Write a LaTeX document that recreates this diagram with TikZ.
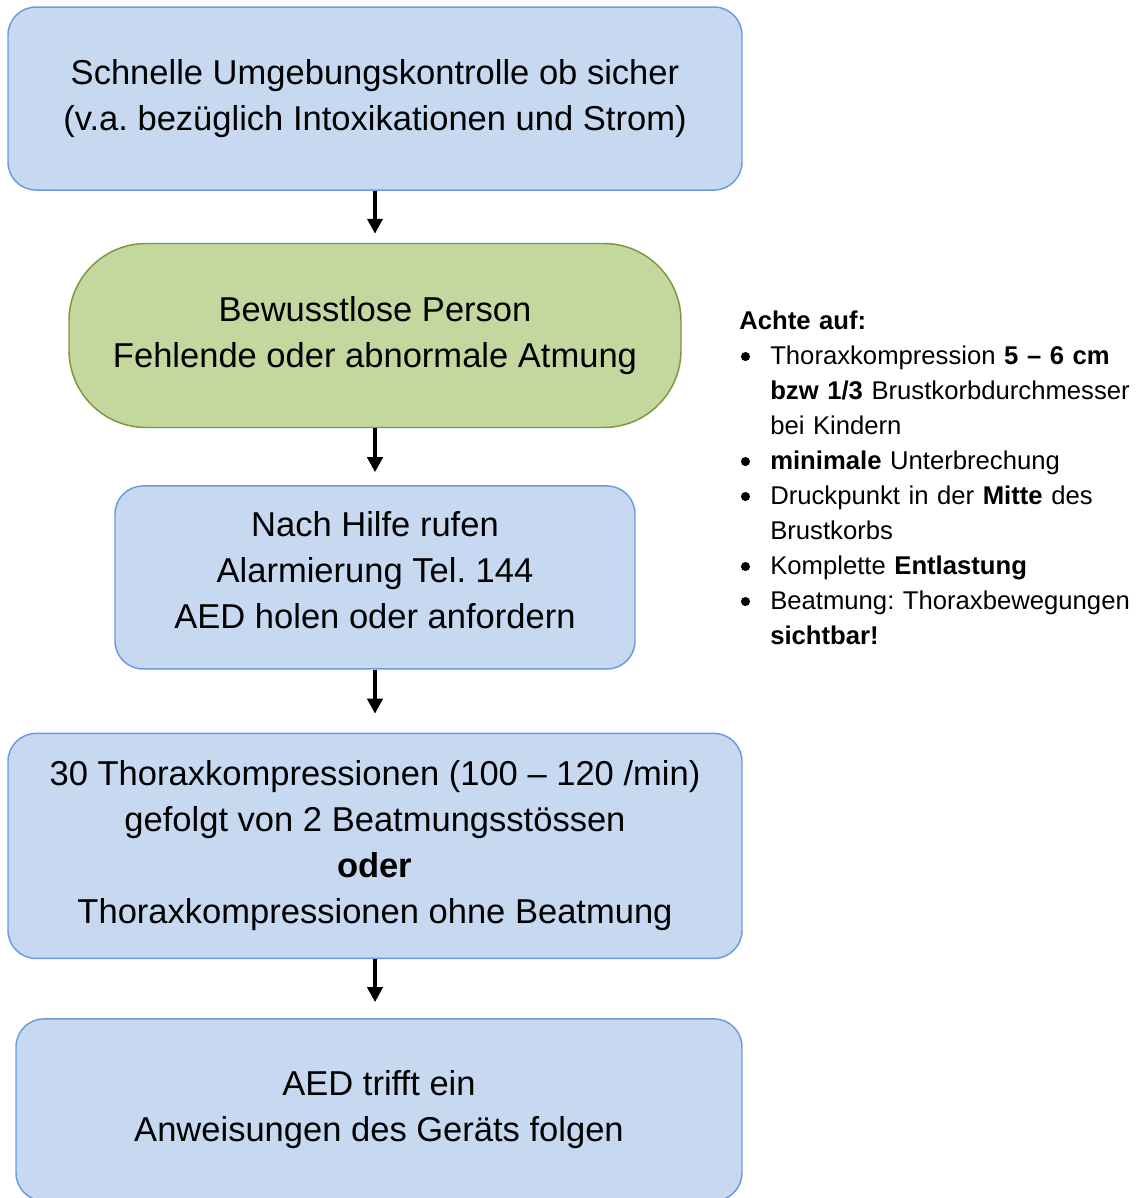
\documentclass[tikz,border=0pt]{standalone}
\usepackage{fontspec}
\setmainfont{Liberation Sans}
\usepackage{xcolor}
\usetikzlibrary{positioning, shapes.geometric, arrows.meta}

\definecolor{boxblue}{HTML}{C6D9F0}
\definecolor{lineblue}{HTML}{6A9BE0}
\definecolor{boxgreen}{HTML}{C4D79F}
\definecolor{linegreen}{HTML}{7A9A3A}

\newcommand{\dotmark}{\tikz[baseline=-5.6pt]\fill (0,0) circle (3.4pt);}

\begin{document}
\frenchspacing
\begin{tikzpicture}[
    node distance=40.5pt,
    boxtext/.style={align=center, font=\fontsize{25.9pt}{34.5pt}\selectfont},
    block/.style={boxtext, draw=lineblue, fill=boxblue, line width=1.1pt, rectangle, rounded corners=21pt, inner sep=0pt},
    pill/.style={block, draw=linegreen, fill=boxgreen, rounded corners=58pt},
    arrow/.style={-{Triangle[length=11.25pt, width=11.25pt]}, line width=3pt},
    hint/.style={anchor=base west, text width=310pt, inner sep=0pt, align=left,
        font=\fontsize{19.25pt}{26.25pt}\selectfont}
]
\useasboundingbox (0,0) rectangle (852.75pt,-898.5pt);

% flow
\node[block, minimum width=550.5pt, minimum height=137.25pt] (check) at (281.25pt,-73.9pt)
    {Schnelle Umgebungskontrolle ob sicher\\(v.a. bezüglich Intoxikationen und Strom)};
\node[pill, minimum width=459pt, minimum height=138pt, below=39pt of check] (person)
    {Bewusstlose Person\\Fehlende oder abnormale Atmung};
\node[block, minimum width=390pt, minimum height=137.25pt, below=42.75pt of person,
    label={[boxtext, yshift=5.6pt]center:{Nach Hilfe rufen\\Alarmierung Tel. 144\\AED holen oder anfordern}}] (call) {};
\node[block, minimum width=550.5pt, minimum height=168.75pt, below=47.25pt of call] (cpr)
    {30 Thoraxkompressionen (100 – 120 /min)\\gefolgt von 2 Beatmungsstössen\\\textbf{oder}\\Thoraxkompressionen ohne Beatmung};
\node[block, minimum width=544.5pt, minimum height=136.5pt, below=44.25pt of cpr, xshift=3pt] (aed)
    {AED trifft ein\\Anweisungen des Geräts folgen};

\draw[arrow, shorten >=6.75pt] (check.south) -- (person.north);
\draw[arrow, shorten >=9.75pt] (person.south) -- (call.north);
\draw[arrow, shorten >=14.25pt] (call.south) -- (cpr.north);
\draw[arrow, shorten >=12pt] (cpr.south) -- (cpr.south |- aed.north);

% side notes
\node[hint] (notes) at (554.25pt,-246.75pt) {\textbf{Achte auf:}
    \begin{list}{\dotmark}{\setlength{\leftmargin}{23.25pt}\setlength{\labelwidth}{6.8pt}%
        \setlength{\labelsep}{15.2pt}\setlength{\itemsep}{0pt}\setlength{\parsep}{0pt}%
        \setlength{\topsep}{0pt}\setlength{\partopsep}{0pt}}
    \item Thoraxkompression \textbf{5 – 6 cm}\newline\textbf{bzw 1/3} Brustkorbdurchmesser\newline bei Kindern
    \item \textbf{minimale} Unterbrechung
    \item Druckpunkt in der \textbf{Mitte} des\newline Brustkorbs
    \item Komplette \textbf{Entlastung}
    \item Beatmung: Thoraxbewegungen\newline\textbf{sichtbar!}
    \end{list}};
\end{tikzpicture}
\end{document}
